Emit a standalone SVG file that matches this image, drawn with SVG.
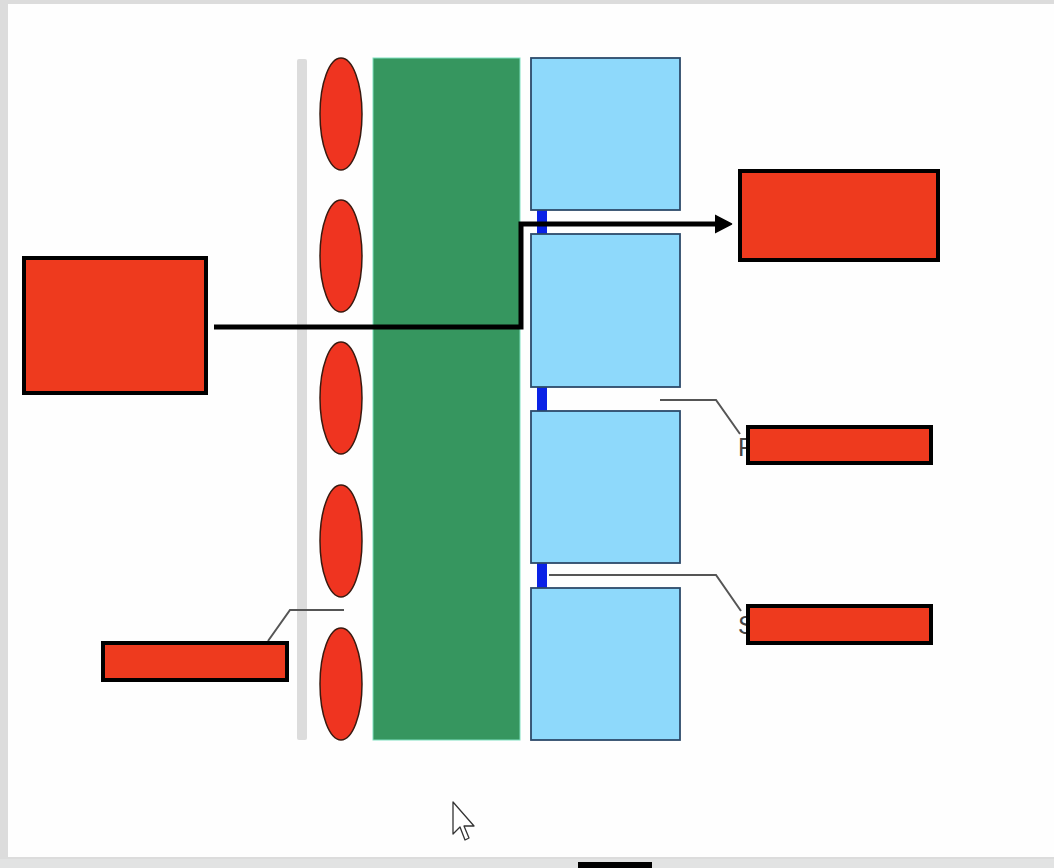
<svg xmlns="http://www.w3.org/2000/svg" width="1054" height="868" viewBox="0 0 1054 868">
<style>
.oval{fill:#ef3420;stroke:#3a1a10;stroke-width:1.5}
.cell{fill:#8ed9fb;stroke:#2d4a6a;stroke-width:1.8}
.gap{fill:#0a22e6}
.lbl{fill:#ee3a1e;stroke:#000;stroke-width:4}
.lead{fill:none;stroke:#555;stroke-width:2}
.hid{font-family:"Liberation Sans",Arial,sans-serif;font-size:25px;fill:#444}
</style>
<defs>
<marker id="ah" markerWidth="4" markerHeight="4" refX="0.5" refY="2" orient="auto" markerUnits="strokeWidth">
<path d="M0,0.2 L3.4,2 L0,3.8 Z" fill="#000" stroke="#000" stroke-width="0.3" stroke-linejoin="round"/>
</marker>
</defs>
<rect x="0" y="0" width="1054" height="868" fill="#dcdcdc"/>
<rect x="8" y="4" width="1046" height="853" fill="#fefefe"/>
<rect x="0" y="859" width="1054" height="9" fill="#e2e3e3"/>
<rect x="578" y="862" width="74" height="6" fill="#000"/>
<g id="membrane">
<rect x="297" y="59" width="10" height="681" fill="#dcdcdc" rx="2"/>
</g>
<g id="ovals">
<ellipse class="oval" cx="341" cy="114" rx="21" ry="56"/>
<ellipse class="oval" cx="341" cy="256" rx="21" ry="56"/>
<ellipse class="oval" cx="341" cy="398" rx="21" ry="56"/>
<ellipse class="oval" cx="341" cy="541" rx="21" ry="56"/>
<ellipse class="oval" cx="341" cy="684" rx="21" ry="56"/>
</g>
<g id="green">
<rect x="373" y="58" width="147" height="682" fill="#36965f" stroke="#7fe0c0" stroke-width="1"/>
</g>
<g id="cells">
<rect class="gap" x="537" y="208" width="10" height="28"/>
<rect class="gap" x="537" y="385" width="10" height="28"/>
<rect class="gap" x="537" y="561" width="10" height="29"/>
<rect class="cell" x="531" y="58" width="149" height="152"/>
<rect class="cell" x="531" y="234" width="149" height="153"/>
<rect class="cell" x="531" y="411" width="149" height="152"/>
<rect class="cell" x="531" y="588" width="149" height="152"/>
</g>
<text class="hid" x="738" y="456">F</text>
<text class="hid" x="738" y="634">S</text>
<g id="connectors">
<polyline points="214,327 521,327 521,224 717,224" fill="none" stroke="#000" stroke-width="5" stroke-linejoin="miter" marker-end="url(#ah)"/>
<polyline class="lead" points="660,400 716,400 740,434"/>
<polyline class="lead" points="549,575 716,575 741,611"/>
<polyline class="lead" points="344,610 290,610 268,641"/>
</g>
<g id="box-left"><rect class="lbl" x="24" y="258" width="182" height="135"/></g>
<g id="box-top-right"><rect class="lbl" x="740" y="171" width="198" height="89"/></g>
<g id="box-f"><rect class="lbl" x="748" y="427" width="183" height="36"/></g>
<g id="box-s"><rect class="lbl" x="748" y="606" width="183" height="37"/></g>
<g id="box-bottom-left"><rect class="lbl" x="103" y="643" width="184" height="37"/></g>
<path d="M453,802 L453,834 L460,827 L465,840 L469,838 L464,826 L474,826 Z" fill="#fff" stroke="#333" stroke-width="1.3" stroke-linejoin="round"/>
</svg>
